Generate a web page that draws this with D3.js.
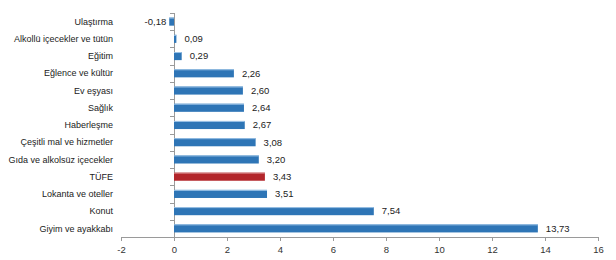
<!DOCTYPE html>
<html><head><meta charset="utf-8">
<script src="https://cdn.jsdelivr.net/npm/d3@7"></script>
<style>body{margin:0;background:#fff;} svg{display:block;} text{font-family:"Liberation Sans",Arial,sans-serif;}</style>
</head><body><svg id="c" width="616" height="260"></svg>
<script>
const categories = ["Ulaştırma","Alkollü içecekler ve tütün","Eğitim","Eğlence ve kültür","Ev eşyası","Sağlık","Haberleşme","Çeşitli mal ve hizmetler","Gıda ve alkolsüz içecekler","TÜFE","Lokanta ve oteller","Konut","Giyim ve ayakkabı"];
const values = [-0.18,0.09,0.29,2.26,2.60,2.64,2.67,3.08,3.20,3.43,3.51,7.54,13.73];
const highlight = "TÜFE";
const xTicks = [-2,0,2,4,6,8,10,12,14,16];

const svg = d3.select("#c");
const x = d3.scaleLinear().domain([-2,16]).range([121,598]);
const y = d3.scaleBand().domain(categories).range([13,237]).paddingInner(0.53).paddingOuter(0.265);
const yb = d3.scaleBand().domain(categories).range([13,237]);
const fmt = v => v.toFixed(2).replace(".", ",");

// x axis
const xa = svg.append("g").attr("transform","translate(0,237)")
  .call(d3.axisBottom(x).tickValues(xTicks).tickSize(4).tickSizeOuter(0).tickFormat(d=>d));
xa.select(".domain").attr("stroke","#9a9a9a");
xa.selectAll(".tick line").attr("stroke","#9a9a9a");
xa.selectAll(".tick text").attr("fill","#333").attr("font-size","9.5px").attr("font-family","'Liberation Sans',Arial,sans-serif").attr("dy","0.95em");

// y axis line at 0
svg.append("line").attr("x1",x(0)+0.5).attr("x2",x(0)+0.5).attr("y1",13).attr("y2",237).attr("stroke","#9a9a9a");
svg.selectAll(".yt").data(categories).enter().append("line")
  .attr("x1",x(0)-4).attr("x2",x(0)).attr("y1",d=>Math.round(yb(d))+0.5).attr("y2",d=>Math.round(yb(d))+0.5).attr("stroke","#9a9a9a");

// bars
const data = categories.map((c,i)=>({c, v: values[i]}));
svg.selectAll(".bar").data(data).enter().append("rect")
  .attr("x",d=>x(Math.min(0,d.v))).attr("width",d=>Math.abs(x(d.v)-x(0)))
  .attr("y",d=>y(d.c)).attr("height",y.bandwidth())
  .attr("fill",d=>d.c===highlight?"#b3262b":"#2e75b6");
svg.selectAll(".hl").data(data).enter().append("rect")
  .attr("x",d=>x(Math.min(0,d.v))).attr("width",d=>Math.abs(x(d.v)-x(0)))
  .attr("y",d=>y(d.c)).attr("height",1)
  .attr("fill",d=>d.c===highlight?"#d98a8c":"#9cc3e6");

// category labels
svg.selectAll(".cl").data(categories).enter().append("text")
  .attr("x",113).attr("y",d=>yb(d)+yb.bandwidth()/2).attr("dy","0.35em")
  .attr("text-anchor","end").attr("font-size","9px").attr("fill","#222").text(d=>d);

// value labels
svg.selectAll(".vl").data(data).enter().append("text")
  .attr("x",d=>d.v<0?x(d.v)-3:x(d.v)+8).attr("y",d=>yb(d.c)+yb.bandwidth()/2).attr("dy","0.35em")
  .attr("text-anchor",d=>d.v<0?"end":"start").attr("font-size","9.5px").attr("fill","#222").text(d=>fmt(d.v));
</script></body></html>
